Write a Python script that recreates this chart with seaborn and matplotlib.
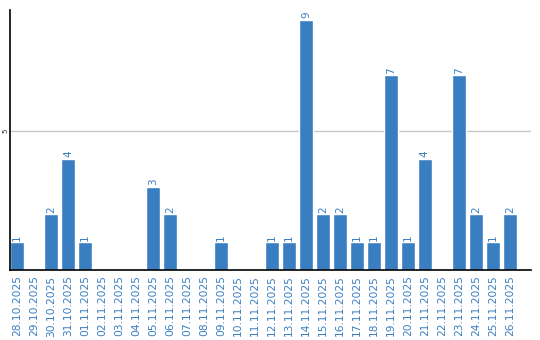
import matplotlib
matplotlib.use("Agg")
import matplotlib.pyplot as plt
import seaborn as sns
import pandas as pd

dates = ["28.10.2025", "29.10.2025", "30.10.2025", "31.10.2025", "01.11.2025",
         "02.11.2025", "03.11.2025", "04.11.2025", "05.11.2025", "06.11.2025",
         "07.11.2025", "08.11.2025", "09.11.2025", "10.11.2025", "11.11.2025",
         "12.11.2025", "13.11.2025", "14.11.2025", "15.11.2025", "16.11.2025",
         "17.11.2025", "18.11.2025", "19.11.2025", "20.11.2025", "21.11.2025",
         "22.11.2025", "23.11.2025", "24.11.2025", "25.11.2025", "26.11.2025"]
counts = [1, 0, 2, 4, 1, 0, 0, 0, 3, 2, 0, 0, 1, 0, 0,
          1, 1, 9, 2, 2, 1, 1, 7, 1, 4, 0, 7, 2, 1, 2]

df = pd.DataFrame({"date": dates, "count": counts})

sns.set_style("white")
plt.rcParams['font.family'] = ['DejaVu Sans']

fig = plt.figure(figsize=(5.4, 3.4), dpi=100)
ax = fig.add_axes([10/540, 70/340, 521/540, 260/340])

blue = "#3a7ec2"
sns.barplot(data=df, x="date", y="count", color=blue, width=0.82,
            saturation=1, ax=ax, zorder=3)

ax.set_xlim(-0.41, 30.24)
ax.set_ylim(0, 9.35)
ax.set_yticks([5])
ax.set_yticklabels(["5"], rotation=90, fontsize=5, va="center")
ax.yaxis.grid(True, color="#c8c8c8", linewidth=1, zorder=0)
ax.xaxis.grid(False)
ax.tick_params(axis="both", length=0)
ax.tick_params(axis="y", pad=1)
ax.tick_params(axis="x", pad=4)
ax.set_xlabel("")
ax.set_ylabel("")
for lbl in ax.get_xticklabels():
    lbl.set_rotation(90)
    lbl.set_color(blue)
    lbl.set_fontsize(7.7)
    lbl.set_va("top")

for s in ["top", "right"]:
    ax.spines[s].set_visible(False)
for s in ["left", "bottom"]:
    ax.spines[s].set_color("black")
    ax.spines[s].set_linewidth(1.2)
    ax.spines[s].set_zorder(5)

for i, v in enumerate(counts):
    if v > 0:
        ax.text(i, v + 0.05, str(v), rotation=90, ha="center", va="bottom",
                color=blue, fontsize=7.5)

fig.savefig("out.png", dpi=100)
